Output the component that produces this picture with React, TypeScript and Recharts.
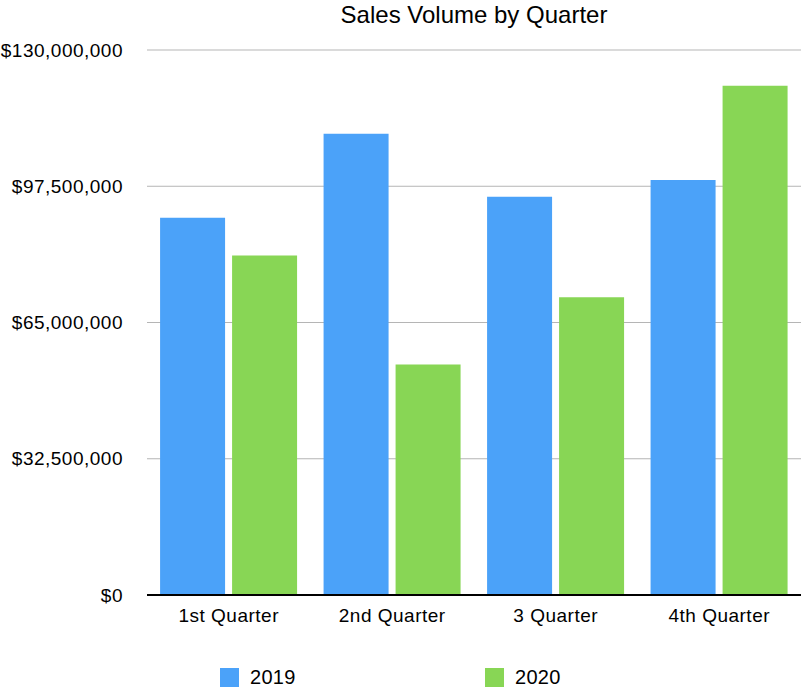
import React from "react";
import { BarChart, Bar, XAxis, YAxis, CartesianGrid, Legend } from "recharts";

const quarters = ["1st Quarter", "2nd Quarter", "3 Quarter", "4th Quarter"];
const sales2019 = [90000000, 110000000, 95000000, 99000000];
const sales2020 = [81000000, 55000000, 71000000, 121500000];
const yTicks = [0, 32500000, 65000000, 97500000, 130000000];
const seriesNames = ["2019", "2020"];
const colors = ["#4BA2F9", "#88D655"];

const data = quarters.map((q, i) => ({ name: q, s2019: sales2019[i], s2020: sales2020[i] }));

const FONT = "'Liberation Sans', Arial, Helvetica, sans-serif";

const fmt = (v: number) => "$" + v.toLocaleString("en-US");

const LegendContent = () => (
  <div style={{ position: "relative", width: 802, height: 20, fontFamily: FONT }}>
    {seriesNames.map((n, i) => (
      <div key={n} style={{ position: "absolute", left: i === 0 ? 220 : 485, top: 0, display: "flex", alignItems: "center" }}>
        <div style={{ width: 19, height: 19, background: colors[i] }} />
        <span style={{ marginLeft: 11, fontSize: 20, letterSpacing: 0.3, color: "#000" }}>{n}</span>
      </div>
    ))}
  </div>
);

export default function App() {
  return (
    <div style={{ position: "absolute", left: 0, top: 0, width: 802, height: 688, background: "#fff" }}>
      <div style={{ position: "absolute", left: 147, width: 654, top: 1, textAlign: "center", fontFamily: FONT, fontSize: 24, color: "#000" }}>
        Sales Volume by Quarter
      </div>
      <BarChart
        width={802}
        height={688}
        data={data}
        margin={{ top: 50, right: 1, left: 0, bottom: 43 }}
        barCategoryGap="8%"
        barGap={7}
      >
        <CartesianGrid vertical={false} stroke="#b5b5b5" strokeWidth={1} />
        <XAxis
          dataKey="name"
          tickLine={false}
          axisLine={{ stroke: "#000", strokeWidth: 2 }}
          tickSize={0}
          tickMargin={14}
          tick={{ fill: "#000", fontSize: 19, fontFamily: FONT, letterSpacing: 0.5 }}
        />
        <YAxis
          width={147}
          domain={[0, 130000000]}
          ticks={yTicks}
          interval={0}
          axisLine={false}
          tickLine={false}
          tickSize={0}
          tickMargin={24}
          tickFormatter={fmt}
          tick={{ fill: "#000", fontSize: 19, fontFamily: FONT, letterSpacing: 0.5 }}
        />
        <Legend
          verticalAlign="bottom"
          content={<LegendContent />}
          wrapperStyle={{ left: 0, bottom: 2, width: 802 }}
        />
        <Bar dataKey="s2019" name={seriesNames[0]} fill={colors[0]} isAnimationActive={false} />
        <Bar dataKey="s2020" name={seriesNames[1]} fill={colors[1]} isAnimationActive={false} />
      </BarChart>
    </div>
  );
}
